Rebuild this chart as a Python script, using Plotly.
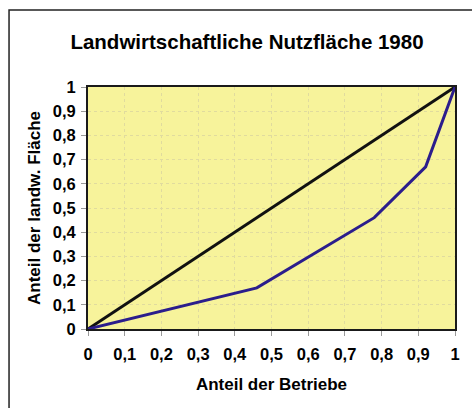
import plotly.graph_objects as go

# Lorenz curve of agricultural land distribution
share_farms = [0, 0.46, 0.78, 0.92, 1]
share_land = [0, 0.17, 0.46, 0.67, 1]
equality_x = [0, 1]
equality_y = [0, 1]

tick_vals = [0, 0.1, 0.2, 0.3, 0.4, 0.5, 0.6, 0.7, 0.8, 0.9, 1]
tick_text = ["0", "0,1", "0,2", "0,3", "0,4", "0,5", "0,6", "0,7", "0,8", "0,9", "1"]

title_text = "Landwirtschaftliche Nutzfläche 1980"
x_title = "Anteil der Betriebe"
y_title = "Anteil der landw. Fläche"

W, H = 472, 408
L, R, T, B = 87.5, 15, 87, 79
pw, ph = W - L - R, H - T - B

def px_to_paper_x(px):
    return (px - L) / pw

def px_to_paper_y(py):
    return (H - B - py) / ph

font = dict(family="Liberation Sans, Arial, sans-serif", color="black")

fig = go.Figure()
fig.add_trace(go.Scatter(x=equality_x, y=equality_y, mode="lines",
                         line=dict(color="#111111", width=3), hoverinfo="skip"))
fig.add_trace(go.Scatter(x=share_farms, y=share_land, mode="lines",
                         line=dict(color="#2b1d8c", width=3), hoverinfo="skip"))

axis_common = dict(
    range=[0, 1], tickvals=tick_vals, ticktext=tick_text,
    showgrid=True, gridcolor="#e0db9e", griddash="3px,3px", gridwidth=1,
    zeroline=False, showline=True, linecolor="#1a1a1a", linewidth=2, mirror=True,
    ticks="outside", ticklen=5, tickcolor="#999999", tickwidth=1,
    tickfont=dict(size=16.5, weight="bold", **font),
)

fig.update_layout(
    width=W, height=H,
    margin=dict(l=L, r=R, t=T, b=B),
    paper_bgcolor="white", plot_bgcolor="#f7f39b",
    showlegend=False,
    title=dict(text=title_text, x=247 / W, xref="container", xanchor="center",
               y=1 - 42 / H, yanchor="middle",
               font=dict(size=20.5, weight="bold", **font)),
    xaxis=dict(**axis_common, ticklabelstandoff=4,
               title=dict(text=x_title, font=dict(size=17, weight="bold", **font), standoff=16)),
    yaxis=dict(**axis_common, ticklabelstandoff=2,
               title=dict(text=y_title, font=dict(size=17, weight="bold", **font), standoff=8)),
)

# outer chart frame
fig.add_shape(type="rect", xref="paper", yref="paper",
              x0=px_to_paper_x(8), x1=px_to_paper_x(490),
              y0=px_to_paper_y(430), y1=px_to_paper_y(10),
              line=dict(color="#222222", width=1.5), fillcolor="rgba(0,0,0,0)", layer="above")

fig.write_html("out.html")
